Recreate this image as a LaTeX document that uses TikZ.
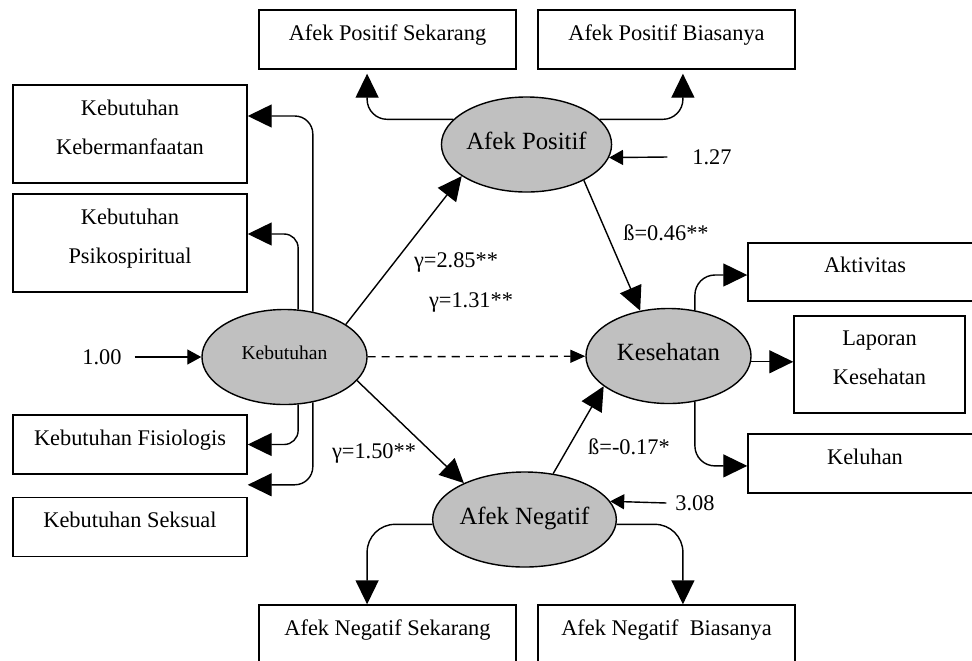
\documentclass[tikz,border=0pt]{standalone}
\usepackage{fontspec}
\setmainfont{Liberation Serif}
\usepackage{tikz}
\usetikzlibrary{positioning,arrows.meta,calc,shapes.geometric}
\definecolor{latentgray}{RGB}{192,192,192}
\tikzset{
  ind/.style={draw, line width=1pt, minimum width=5.85cm, minimum height=1.475cm,
              align=center, text depth=10pt, font=\fontsize{15.9}{27.7}\selectfont},
  wide/.style={ind, minimum width=6.425cm},
  latent/.style={ellipse, draw, line width=1pt, fill=latentgray, minimum width=4.125cm,
                 minimum height=2.375cm, inner sep=0pt, text depth=6pt,
                 font=\fontsize{17.6}{20}\selectfont},
  link/.style={-{Triangle[length=6mm, width=5.75mm]}, line width=1pt},
  elink/.style={-{Triangle[length=3.5mm, width=3.75mm]}, line width=1pt},
  dlink/.style={-{Triangle[length=3.75mm, width=3.25mm]}, line width=1pt,
                dash pattern=on 2mm off 1.5mm},
  coef/.style={font=\fontsize{15.9}{19}\selectfont}
}

\begin{document}
\begin{tikzpicture}[x=0.025cm, y=-0.025cm]
  \clip (0,0) rectangle (972,660);
  % observed indicators
  \node[wide] (apsek) at (387.5,39.5) {Afek Positif Sekarang};
  \node[wide] (apbia) at (666.5,39.5) {Afek Positif Biasanya};
  \node[ind, minimum height=2.45cm] (kbm) at (130,134) {Kebutuhan\\Kebermanfaatan};
  \node[ind, minimum height=2.45cm] (psi) at (130,243) {Kebutuhan\\Psikospiritual};
  \node[ind] (fis) at (130,444.5) {Kebutuhan Fisiologis};
  \node[ind] (sek) at (130,527) {Kebutuhan Seksual};
  \node[ind, minimum height=1.45cm] (akt) at (865,272) {Aktivitas};
  \node[ind, minimum width=4.275cm, minimum height=2.425cm] (lap) at (879.5,364.5) {Laporan\\Kesehatan};
  \node[ind] (kel) at (865,463.5) {Keluhan};
  \node[wide] (ansek) at (387.5,634.5) {Afek Negatif Sekarang};
  \node[wide] (anbia) at (666.5,634.5) {Afek Negatif\ \ Biasanya};

  % latent variables
  \node[latent] (ap) at (526.5,144.5) {Afek Positif};
  \node[latent, font=\fontsize{13.9}{16}\selectfont] (keb) at (284.5,357) {Kebutuhan};
  \node[latent] (kes) at (668.5,356) {Kesehatan};
  \node[latent] (an) at (524.5,519.5) {Afek Negatif};

  % coefficients
  \node[coef] (e0) at (102,357) {1.00};
  \node[coef] (e1) at (712,157) {1.27};
  \node[coef] (e2) at (695,503) {3.08};
  \node[coef] (g1) at (456,262) {γ=2.85**};
  \node[coef] (g2) at (471,302) {γ=1.31**};
  \node[coef] (g3) at (374,453) {γ=1.50**};
  \node[coef] (b1) at (666,233) {ß=0.46**};
  \node[coef] (b2) at (629,447) {ß=-0.17*};

  % measurement paths
  \draw[link, rounded corners=4.5mm] (keb.58) |- ([yshift=4.5mm]kbm.east);
  \draw[link, rounded corners=3.5mm] (keb.74) |- ([yshift=2.25mm]psi.east);
  \draw[link, rounded corners=3.5mm] (keb.-74) |- (fis.east);
  \draw[link, rounded corners=4.5mm] (keb.-58) |- ([yshift=3mm]sek.north east);
  \draw[link, rounded corners=5mm] (ap.161) -| ([xshift=-5.1mm, yshift=-1mm]apsek.south);
  \draw[link, rounded corners=5mm] (ap.19) -| ([xshift=4.1mm, yshift=-1mm]apbia.south);
  \draw[link, rounded corners=7mm] (an.183) -| ([xshift=-5.1mm]ansek.north);
  \draw[link, rounded corners=7mm] (an.-3) -| ([xshift=4.1mm]anbia.north);
  \draw[link, rounded corners=5mm] (kes.60) |- ([yshift=-0.75mm]akt.west);
  \draw[link] (kes.-4) -- (kes.-4 -| lap.west);
  \draw[link, rounded corners=5mm] (kes.-60) |- ([yshift=-0.6mm]kel.west);

  % structural paths
  \draw[link] (keb.28) -- (ap.206);
  \draw[link] (keb.-18) -- (an.149);
  \draw[dlink] (keb) -- (kes);
  \draw[link] (ap.-32) -- (kes.122);
  \draw[link] (an.58) -- (kes.205);

  % disturbances
  \draw[elink] ([xshift=2mm]e0.east) -- (keb.west);
  \draw[elink] ([xshift=-5mm]e1.west) -- (ap.-9);
  \draw[elink] ([xshift=-1mm]e2.west) -- (an.12);
\end{tikzpicture}
\end{document}
